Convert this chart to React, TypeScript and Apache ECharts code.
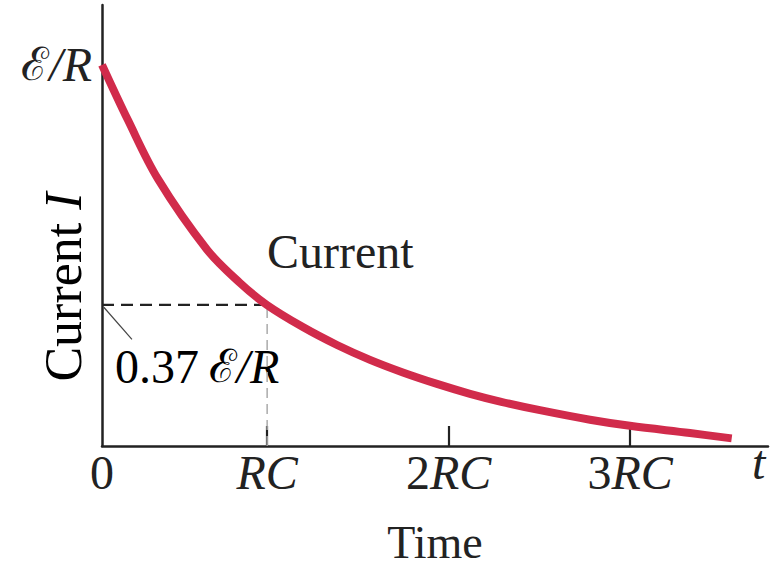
import React, { useEffect, useRef } from "react";
import * as echarts from "echarts";

// Curve: time in units of the axis, current as fraction of ℰ/R
const curveTime = [0, 0.143, 0.309, 0.579, 0.76, 0.909, 1.107, 1.295, 1.477, 1.658, 1.846, 2.028, 2.2, 2.413, 2.689, 2.909, 3.24, 3.47];
const curveCurrent = [1.0, 0.855, 0.7, 0.515, 0.428, 0.37, 0.312, 0.265, 0.226, 0.193, 0.163, 0.137, 0.116, 0.094, 0.069, 0.053, 0.034, 0.02];

// Tick positions and labels on the time axis
const xTickValues = [0.91, 1.91, 2.91];
const xTickLabels = ["RC", "2RC", "3RC"];
const xMax = 3.67;
const yMax = 1.157;

// Reference level (one time constant)
const refCurrent = 0.37;
const refTime = 0.91;
// leader line from the axis to the 0.37 label
const leaderTime = [0.01, 0.165];
const leaderCurrent = [0.364, 0.28];

const SERIF = '"Liberation Serif", "Times New Roman", serif';
const INK = "#222";
const FS = 48;

export default function App() {
  const ref = useRef<HTMLDivElement>(null);
  useEffect(() => {
    if (!ref.current) return;
    const chart = echarts.init(ref.current, null, { renderer: "svg" });
    const rich = {
      n: { fontFamily: SERIF, fontSize: FS, color: INK },
      i: { fontFamily: SERIF, fontSize: FS, color: INK, fontStyle: "italic" },
      s: { fontFamily: SERIF, fontSize: FS - 2, color: INK },
    };
    const richBig = {
      n: { fontFamily: SERIF, fontSize: 52, color: INK },
      i: { fontFamily: SERIF, fontSize: 52, color: INK, fontStyle: "italic" },
    };
    const xLabel = (v: number) => {
      if (Math.abs(v) < 1e-6) return "{n|0}";
      const idx = xTickValues.findIndex((t) => Math.abs(t - v) < 1e-6);
      if (idx < 0) return "";
      const lab = xTickLabels[idx];
      const m = lab.match(/^(\d*)(.*)$/);
      return (m && m[1] ? `{n|${m[1]}}` : "") + `{i|${m ? m[2] : lab}}`;
    };
    chart.setOption({
      animation: false,
      backgroundColor: "#fff",
      grid: { left: 102, right: 13, top: 5, bottom: 124, outerBoundsMode: "none", containLabel: false },
      xAxis: {
        type: "value",
        min: 0,
        max: xMax,
        name: "Time",
        nameLocation: "middle",
        nameGap: 75,
        nameMoveOverlap: false,
        nameTextStyle: { fontFamily: SERIF, fontSize: 46, lineHeight: 42, color: INK },
        axisLine: { show: true, onZero: false, lineStyle: { color: INK, width: 2.5 } },
        axisTick: { show: true, inside: true, length: 20, customValues: xTickValues, lineStyle: { color: INK, width: 2.2 } },
        axisLabel: { show: true, customValues: [0, ...xTickValues], formatter: xLabel, margin: 2, rich },
        splitLine: { show: false },
      },
      yAxis: {
        type: "value",
        min: 0,
        max: yMax,
        axisLine: { show: true, onZero: false, lineStyle: { color: INK, width: 2.5 } },
        axisTick: { show: false },
        axisLabel: {
          show: true,
          customValues: [1],
          formatter: () => "{s|ℰ}{i|/R}",
          margin: 10,
          rich,
        },
        splitLine: { show: false },
      },
      series: [
        {
          type: "line",
          data: curveTime.map((t, k) => [t, curveCurrent[k]]),
          smooth: 0.35,
          symbol: "none",
          clip: false,
          lineStyle: { color: "#d12b4b", width: 8, cap: "butt" },
          z: 5,
        },
        {
          type: "line",
          data: [[0, refCurrent], [refTime, refCurrent]],
          symbol: "none",
          lineStyle: { color: INK, width: 2.2, type: [12, 7] },
          z: 3,
        },
        {
          type: "line",
          data: [[refTime, 0], [refTime, refCurrent]],
          symbol: "none",
          lineStyle: { color: "#aaa", width: 1.5, type: [10, 6] },
          z: 3,
        },
        {
          type: "line",
          data: leaderTime.map((t, k) => [t, leaderCurrent[k]]),
          symbol: "none",
          lineStyle: { color: "#444", width: 1.2 },
          z: 3,
        },
      ],
      graphic: [
        {
          type: "text",
          x: 63,
          y: 287,
          rotation: Math.PI / 2,
          style: {
            text: "{n|Current }{i|I}",
            rich: richBig,
            align: "center",
            verticalAlign: "middle",
          },
        },
        {
          type: "text",
          left: 267,
          top: 227,
          style: { text: "Current", font: `${FS}px ${SERIF}`, fill: INK },
        },
        {
          type: "text",
          left: 115,
          top: 342,
          style: {
            text: "{n|0.37\u2009}{s|ℰ}{i|/R}",
            rich,
          },
        },
        {
          type: "text",
          left: 752,
          top: 438,
          style: { text: "t", font: `italic ${FS}px ${SERIF}`, fill: INK },
        },
      ],
    });
    return () => chart.dispose();
  }, []);
  return <div ref={ref} style={{ position: "fixed", left: 0, top: 0, width: 781, height: 570 }} />;
}
